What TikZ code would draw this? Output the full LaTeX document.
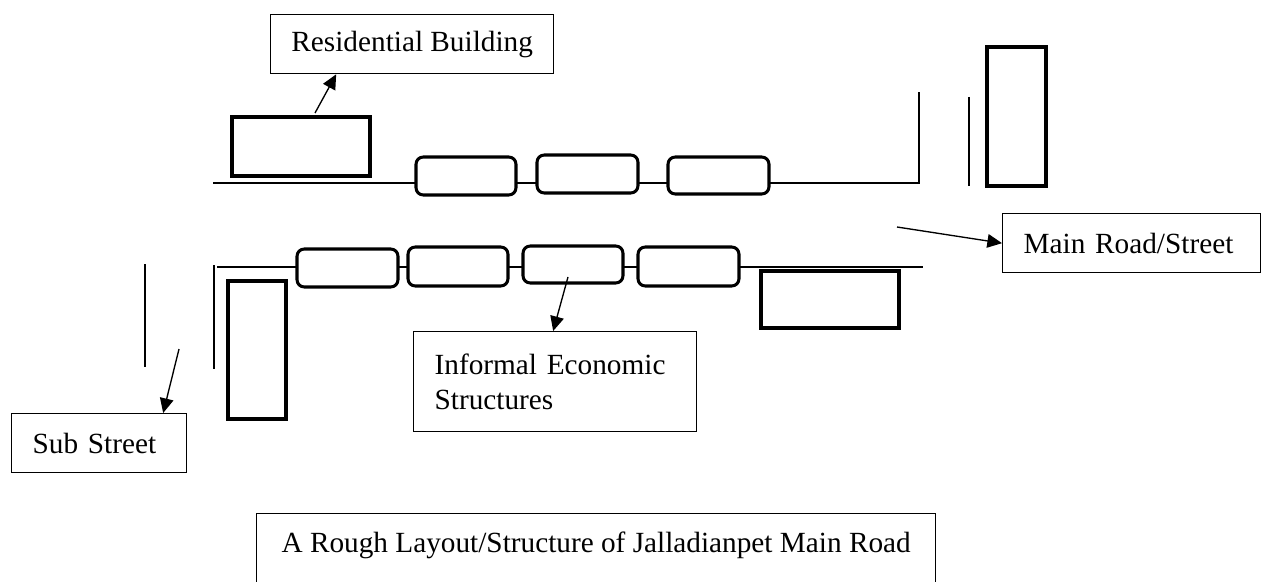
\documentclass[tikz,border=0pt]{standalone}
\usepackage{fontspec}
\setmainfont{Liberation Serif}
\usetikzlibrary{arrows.meta}

\newlength\pxu
\setlength\pxu{0.41pt}

\tikzset{
	road/.style={line width=0.55pt},
	house/.style={line width=1.25pt},
	stall/.style={line width=1.25pt, rounded corners=3pt, fill=white},
	lbl/.style={draw, line width=0.55pt, anchor=north west, align=left,
		inner xsep=21\pxu, font=\fontsize{12}{14.3}\selectfont},
	pointer/.style={line width=0.55pt, -{Triangle[length=6pt,width=5.6pt]}}
}

\begin{document}
\begin{tikzpicture}[x=0.41pt, y=-0.41pt]
	\useasboundingbox (0,0) rectangle (1263,582);

	% roads
	\draw[road] (213,183) -- (919,183) -- (919,92);
	\draw[road] (969,97) -- (969,186);
	\draw[road] (217,267) -- (923,267);
	\draw[road] (214,265) -- (214,369);
	\draw[road] (145,264) -- (145,367);

	% buildings
	\draw[house] (232,117) rectangle (370,176);
	\draw[house] (987,47) rectangle (1046,186);
	\draw[house] (228,281) rectangle (286,419);
	\draw[house] (761,271) rectangle (899,328);

	% stalls along the road
	\draw[stall] (416,157) rectangle (516,195);
	\draw[stall] (537,155) rectangle (638,193);
	\draw[stall] (668,157) rectangle (769,194);
	\draw[stall] (297,249) rectangle (398,287);
	\draw[stall] (408,247) rectangle (508,286);
	\draw[stall] (523,246) rectangle (623,283);
	\draw[stall] (638,247) rectangle (739,286);

	\node[lbl, inner xsep=10\pxu, minimum width=283\pxu, minimum height=59\pxu]
		(lblres) at (270,14) {Residential Building};
	\node[lbl, text width=216\pxu, minimum width=258\pxu, minimum height=59\pxu]
		(lblmain) at (1002,213) {Main Road/Street};
	\node[lbl, text width=133\pxu, minimum width=175\pxu, minimum height=59\pxu]
		(lblsub) at (11,413) {Sub Street};
	\node[lbl, text width=241\pxu, minimum width=283\pxu, minimum height=100\pxu]
		(lblinf) at (413,331) {Informal Economic\\Structures};
	\node[lbl, inner xsep=12\pxu, minimum width=679\pxu, inner ysep=19\pxu,
		text height=20\pxu, text depth=40\pxu]
		(title) at (256,513) {A Rough Layout/Structure of Jalladianpet Main Road};

	\coordinate (resfrom) at (315,113);
	\coordinate (mainfrom) at (897,227);
	\coordinate (subfrom) at (179,349);
	\coordinate (inffrom) at (568,277);

	\draw[pointer] (resfrom) -- ([shift={(-76,0)}]lblres.south);
	\draw[pointer] (mainfrom) -- (lblmain.west);
	\draw[pointer] (subfrom) -- ([shift={(64,0)}]lblsub.north);
	\draw[pointer] (inffrom) -- ([shift={(-2,0)}]lblinf.north);
\end{tikzpicture}
\end{document}
